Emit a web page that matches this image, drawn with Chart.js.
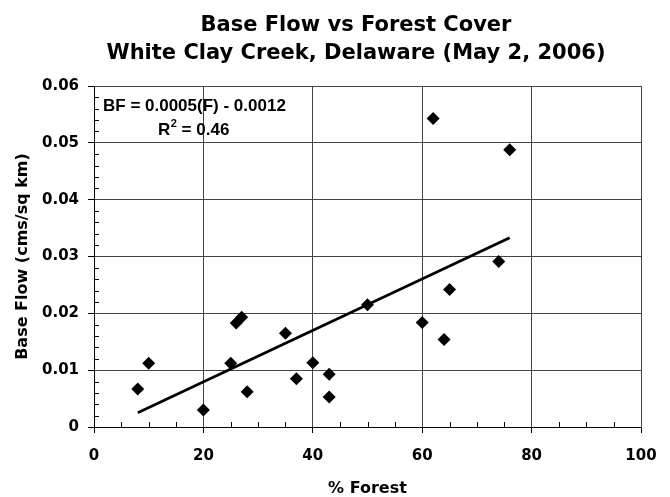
<!DOCTYPE html>
<html>
<head>
<meta charset="utf-8">
<script src="https://cdn.jsdelivr.net/npm/chart.js@4/dist/chart.umd.min.js"></script>
<style>
  body { margin: 0; background: #fff; }
</style>
</head>
<body>
<canvas id="myChart" width="670" height="497"></canvas>
<script>
// % forest cover per sub-watershed and its base flow (cms/sq km)
const forestPct = [8, 10, 20, 25, 26, 27, 28, 35, 37, 40, 43, 43, 50, 60, 62, 64, 65, 74, 76];
const baseFlow = [0.0067, 0.0112, 0.0030, 0.0112, 0.0183, 0.0193, 0.0062, 0.0165, 0.0085, 0.0113,
                  0.0093, 0.0053, 0.0215, 0.0184, 0.0543, 0.0154, 0.0242, 0.0291, 0.0488];

// ends of the fitted line as drawn
const trendX = [8, 76];
const trendY = [0.0025, 0.0333];

const xTicks = [0, 20, 40, 60, 80, 100];
const yTicks = ['0', '0.01', '0.02', '0.03', '0.04', '0.05', '0.06'];

const titleLines = ['Base Flow vs Forest Cover', 'White Clay Creek, Delaware (May 2, 2006)'];
const eqText = 'BF = 0.0005(F) - 0.0012';
const r2Text = ' = 0.46';

document.addEventListener("DOMContentLoaded", function () {
    renderChart();
});

// title + equation text, drawn by hand so they can sit where the original has them
const textPlugin = {
    id: 'texts',
    afterDraw(chart) {
        const ctx = chart.ctx;
        ctx.save();
        ctx.fillStyle = '#000';
        ctx.textAlign = 'center';
        ctx.textBaseline = 'alphabetic';
        ctx.font = 'bold 21px "DejaVu Sans"';
        ctx.fillText(titleLines[0], 356, 30.7);
        ctx.fillText(titleLines[1], 356, 59.3);

        ctx.textAlign = 'left';
        ctx.font = 'bold 17px "Liberation Sans"';
        ctx.fillText(eqText, 103, 110.5);
        let x = 158;
        ctx.fillText('R', x, 134.5);
        x += ctx.measureText('R').width;
        ctx.font = 'bold 11px "Liberation Sans"';
        ctx.fillText('2', x + 0.5, 127);
        x += ctx.measureText('2').width + 0.5;
        ctx.font = 'bold 17px "Liberation Sans"';
        ctx.fillText(r2Text, x, 134.5);
        ctx.restore();
    }
};

// small inside ticks between the labelled ones
const minorTicks = {
    id: 'minorTicks',
    beforeDatasetsDraw(chart) {
        const {ctx, chartArea: a, scales: {x, y}} = chart;
        ctx.save();
        ctx.strokeStyle = '#000';
        ctx.lineWidth = 1;
        ctx.beginPath();
        for (let v = 5; v < 100; v += 5) {
            if (v % 20 === 0) continue;
            const px = Math.round(x.getPixelForValue(v)) + 0.5;
            ctx.moveTo(px, a.bottom);
            ctx.lineTo(px, a.bottom - 5);
        }
        for (let i = 1; i < 30; i++) {
            if (i % 5 === 0) continue;
            const py = Math.round(y.getPixelForValue(i * 0.002)) + 0.5;
            ctx.moveTo(a.left, py);
            ctx.lineTo(a.left + 5, py);
        }
        ctx.stroke();
        ctx.restore();
    }
};

function renderChart() {
    const points = forestPct.map((f, i) => ({x: f, y: baseFlow[i]}));
    const trend = trendX.map((f, i) => ({x: f, y: trendY[i]}));
    const tickFont = {family: '"DejaVu Sans"', size: 15, weight: 'bold'};
    const titleFont = {family: '"DejaVu Sans"', size: 16, weight: 'bold'};

    var ctx = document.getElementById('myChart').getContext('2d');
    var myChart = new Chart(ctx, {
        type: 'scatter',
        data: {
            datasets: [{
                label: 'Base flow',
                data: points,
                pointStyle: 'rectRot',
                pointRadius: 6.5,
                backgroundColor: '#000',
                borderColor: '#000',
                borderWidth: 0
            }, {
                label: 'Trend',
                data: trend,
                showLine: true,
                pointRadius: 0,
                borderColor: '#000',
                borderWidth: 2.7
            }]
        },
        plugins: [minorTicks, textPlugin],
        options: {
            responsive: false,
            animation: false,
            devicePixelRatio: 1,
            layout: { padding: {top: 86, right: 29, left: 0, bottom: 0} },
            plugins: {
                legend: { display: false },
                tooltip: { enabled: false }
            },
            scales: {
                x: {
                    type: 'linear',
                    min: 0,
                    max: 100,
                    afterBuildTicks: s => { s.ticks = xTicks.map(v => ({value: v})); },
                    afterFit: s => { s.height = 70; s.paddingLeft = 0; s.paddingRight = 0; },
                    ticks: { color: '#000', font: tickFont, padding: 14, maxRotation: 0 },
                    grid: { color: '#444', tickColor: '#000', tickLength: 6 },
                    border: { color: '#000' },
                    title: {
                        display: true, text: '% Forest', color: '#000',
                        font: titleFont, padding: {top: 0, bottom: -1.5}
                    }
                },
                y: {
                    type: 'linear',
                    min: 0,
                    max: 0.06,
                    afterBuildTicks: s => { s.ticks = yTicks.map(t => ({value: parseFloat(t)})); },
                    afterFit: s => { s.width = 94; s.paddingTop = 0; s.paddingBottom = 0; },
                    ticks: {
                        color: '#000', font: tickFont, padding: 9,
                        callback: (v, i) => yTicks[i]
                    },
                    grid: { color: '#444', tickColor: '#000', tickLength: 6 },
                    border: { color: '#000' },
                    title: {
                        display: true, text: 'Base Flow (cms/sq km)', color: '#000',
                        font: titleFont, padding: {top: 13, bottom: 0}
                    }
                }
            }
        }
    });
}
</script>
</body>
</html>
